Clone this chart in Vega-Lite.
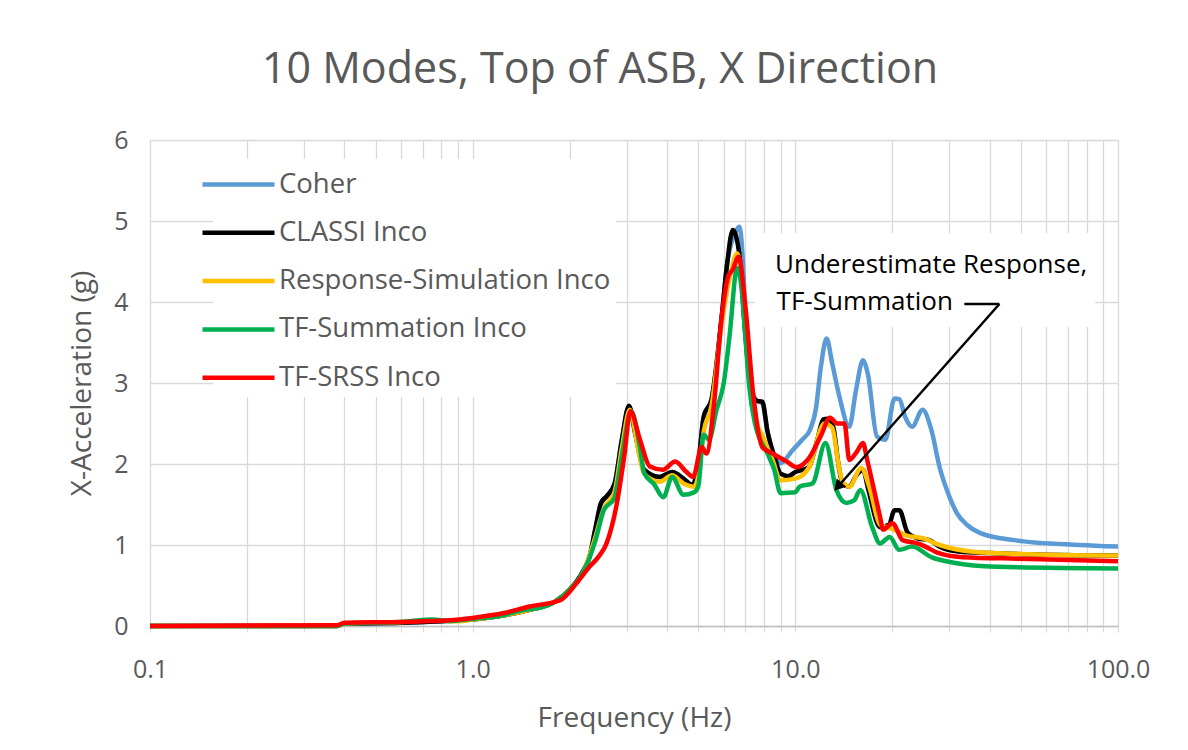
{
  "$schema": "https://vega.github.io/schema/vega-lite/v6.json",
  "width": 968,
  "height": 486,
  "autosize": {"type": "none"},
  "padding": {"left": 150, "top": 140, "right": 70, "bottom": 124},
  "background": "white",
  "config": {"view": {"stroke": null}, "font": "Open Sans"},
  "title": {"text": "10 Modes, Top of ASB, X Direction", "font": "Open Sans", "fontSize": 43, "fontWeight": "normal", "color": "#595959", "anchor": "middle", "offset": 36, "dx": -34},
  "datasets": {
    "coher": [
      {"f":0.1,"a":0},{"f":0.38,"a":0},{"f":0.4,"a":0.03},{"f":0.6,"a":0.04},{"f":0.8,"a":0.06},{"f":1.0,"a":0.08},{"f":1.2,"a":0.12},{"f":1.5,"a":0.2},{"f":1.8,"a":0.3},{"f":2.0,"a":0.45},{"f":2.2,"a":0.68},{"f":2.3,"a":0.85},{"f":2.4,"a":1.2},{"f":2.5,"a":1.52},{"f":2.6,"a":1.6},{"f":2.75,"a":1.75},{"f":2.9,"a":2.3},{"f":3.05,"a":2.7},{"f":3.2,"a":2.35},{"f":3.4,"a":1.93},{"f":3.8,"a":1.84},{"f":4.15,"a":1.9},{"f":4.5,"a":1.82},{"f":4.8,"a":1.74},{"f":5.0,"a":2.0},{"f":5.2,"a":2.58},{"f":5.5,"a":2.8},{"f":5.9,"a":3.78},{"f":6.15,"a":4.48},{"f":6.5,"a":4.85},{"f":6.7,"a":4.93},{"f":6.9,"a":4.4},{"f":7.0,"a":3.8},{"f":7.3,"a":2.95},{"f":7.6,"a":2.78},{"f":7.9,"a":2.75},{"f":8.2,"a":2.4},{"f":8.6,"a":2.1},{"f":9.0,"a":2.01},{"f":9.8,"a":2.17},{"f":10.5,"a":2.3},{"f":11.1,"a":2.42},{"f":11.6,"a":2.7},{"f":12.0,"a":3.2},{"f":12.5,"a":3.55},{"f":13.0,"a":3.25},{"f":13.7,"a":2.83},{"f":14.7,"a":2.46},{"f":15.4,"a":2.9},{"f":16.2,"a":3.28},{"f":16.8,"a":3.1},{"f":17.9,"a":2.34},{"f":19.0,"a":2.3},{"f":20.3,"a":2.81},{"f":21.0,"a":2.8},{"f":21.9,"a":2.58},{"f":23,"a":2.46},{"f":24.8,"a":2.67},{"f":26.4,"a":2.42},{"f":28,"a":1.96},{"f":30,"a":1.6},{"f":31.7,"a":1.39},{"f":34,"a":1.25},{"f":37.3,"a":1.15},{"f":47.6,"a":1.06},{"f":76,"a":1.0},{"f":100,"a":0.98}
    ],
    "classi": [
      {"f":0.1,"a":0},{"f":0.38,"a":0},{"f":0.4,"a":0.03},{"f":0.6,"a":0.04},{"f":0.8,"a":0.06},{"f":1.0,"a":0.08},{"f":1.2,"a":0.12},{"f":1.5,"a":0.2},{"f":1.8,"a":0.3},{"f":2.0,"a":0.45},{"f":2.2,"a":0.68},{"f":2.3,"a":0.85},{"f":2.4,"a":1.2},{"f":2.5,"a":1.52},{"f":2.6,"a":1.6},{"f":2.75,"a":1.75},{"f":2.9,"a":2.3},{"f":3.05,"a":2.72},{"f":3.2,"a":2.35},{"f":3.4,"a":1.93},{"f":3.8,"a":1.84},{"f":4.15,"a":1.9},{"f":4.5,"a":1.82},{"f":4.8,"a":1.74},{"f":5.0,"a":2.0},{"f":5.2,"a":2.58},{"f":5.5,"a":2.8},{"f":5.9,"a":3.78},{"f":6.15,"a":4.48},{"f":6.4,"a":4.89},{"f":6.7,"a":4.6},{"f":7.0,"a":3.6},{"f":7.3,"a":2.9},{"f":7.6,"a":2.78},{"f":7.9,"a":2.77},{"f":8.2,"a":2.4},{"f":8.6,"a":2.1},{"f":9.0,"a":1.88},{"f":9.5,"a":1.85},{"f":10,"a":1.9},{"f":11,"a":1.96},{"f":11.7,"a":2.3},{"f":12.2,"a":2.55},{"f":12.6,"a":2.56},{"f":13.1,"a":2.46},{"f":13.6,"a":2.0},{"f":14.0,"a":1.76},{"f":14.7,"a":1.72},{"f":15.4,"a":1.85},{"f":16.2,"a":1.93},{"f":16.8,"a":1.7},{"f":18.3,"a":1.22},{"f":19.5,"a":1.25},{"f":20.3,"a":1.43},{"f":21,"a":1.43},{"f":22.3,"a":1.15},{"f":24,"a":1.08},{"f":26,"a":1.06},{"f":28,"a":0.98},{"f":32,"a":0.92},{"f":40,"a":0.9},{"f":60,"a":0.88},{"f":100,"a":0.87}
    ],
    "respsim": [
      {"f":0.1,"a":0},{"f":0.38,"a":0},{"f":0.4,"a":0.03},{"f":0.6,"a":0.05},{"f":0.75,"a":0.07},{"f":0.9,"a":0.06},{"f":1.0,"a":0.08},{"f":1.2,"a":0.12},{"f":1.5,"a":0.2},{"f":1.8,"a":0.3},{"f":2.0,"a":0.45},{"f":2.2,"a":0.66},{"f":2.4,"a":1.1},{"f":2.55,"a":1.45},{"f":2.75,"a":1.65},{"f":2.9,"a":2.2},{"f":3.07,"a":2.67},{"f":3.25,"a":2.2},{"f":3.4,"a":1.88},{"f":3.8,"a":1.78},{"f":4.15,"a":1.86},{"f":4.5,"a":1.76},{"f":4.85,"a":1.72},{"f":5.0,"a":1.85},{"f":5.2,"a":2.4},{"f":5.5,"a":2.72},{"f":5.9,"a":3.7},{"f":6.3,"a":4.35},{"f":6.6,"a":4.6},{"f":6.9,"a":4.1},{"f":7.2,"a":3.1},{"f":7.5,"a":2.6},{"f":8.0,"a":2.3},{"f":8.5,"a":2.05},{"f":9.0,"a":1.8},{"f":10,"a":1.82},{"f":11,"a":1.95},{"f":12.3,"a":2.5},{"f":13,"a":2.45},{"f":13.6,"a":2.0},{"f":14,"a":1.78},{"f":14.7,"a":1.72},{"f":16,"a":1.95},{"f":17,"a":1.7},{"f":18.3,"a":1.25},{"f":20,"a":1.2},{"f":22,"a":1.12},{"f":25,"a":1.08},{"f":28,"a":1.0},{"f":35,"a":0.92},{"f":50,"a":0.89},{"f":100,"a":0.87}
    ],
    "tfsum": [
      {"f":0.1,"a":0},{"f":0.38,"a":0},{"f":0.4,"a":0.03},{"f":0.6,"a":0.05},{"f":0.75,"a":0.08},{"f":0.85,"a":0.06},{"f":1.0,"a":0.09},{"f":1.2,"a":0.12},{"f":1.45,"a":0.2},{"f":1.6,"a":0.22},{"f":1.8,"a":0.3},{"f":2.0,"a":0.45},{"f":2.2,"a":0.66},{"f":2.4,"a":1.05},{"f":2.55,"a":1.43},{"f":2.75,"a":1.58},{"f":2.9,"a":2.1},{"f":3.1,"a":2.65},{"f":3.3,"a":2.2},{"f":3.4,"a":1.89},{"f":3.65,"a":1.75},{"f":3.9,"a":1.59},{"f":4.15,"a":1.84},{"f":4.5,"a":1.62},{"f":4.85,"a":1.65},{"f":5.0,"a":1.72},{"f":5.2,"a":2.36},{"f":5.4,"a":2.3},{"f":5.7,"a":2.67},{"f":6.0,"a":3.0},{"f":6.25,"a":3.57},{"f":6.6,"a":4.42},{"f":6.8,"a":4.2},{"f":7.0,"a":3.57},{"f":7.2,"a":2.95},{"f":7.5,"a":2.5},{"f":8.2,"a":2.13},{"f":8.6,"a":1.93},{"f":9.0,"a":1.64},{"f":10,"a":1.65},{"f":10.3,"a":1.72},{"f":11.3,"a":1.76},{"f":12.4,"a":2.26},{"f":13.4,"a":1.68},{"f":14.4,"a":1.52},{"f":15.2,"a":1.55},{"f":15.9,"a":1.68},{"f":17.3,"a":1.22},{"f":18.3,"a":1.02},{"f":19.6,"a":1.1},{"f":21,"a":0.94},{"f":23,"a":0.98},{"f":26.4,"a":0.85},{"f":31,"a":0.78},{"f":42,"a":0.73},{"f":100,"a":0.71}
    ],
    "tfsrss": [
      {"f":0.1,"a":0},{"f":0.38,"a":0.01},{"f":0.4,"a":0.04},{"f":0.6,"a":0.05},{"f":0.85,"a":0.07},{"f":1.0,"a":0.1},{"f":1.25,"a":0.16},{"f":1.5,"a":0.24},{"f":1.87,"a":0.32},{"f":2.1,"a":0.53},{"f":2.3,"a":0.73},{"f":2.45,"a":0.85},{"f":2.6,"a":1.02},{"f":2.8,"a":1.52},{"f":2.95,"a":2.1},{"f":3.08,"a":2.65},{"f":3.3,"a":2.3},{"f":3.54,"a":1.97},{"f":3.89,"a":1.93},{"f":4.24,"a":2.03},{"f":4.6,"a":1.9},{"f":4.82,"a":1.84},{"f":5.13,"a":2.21},{"f":5.3,"a":2.13},{"f":5.6,"a":2.75},{"f":5.9,"a":3.78},{"f":6.2,"a":4.32},{"f":6.4,"a":4.4},{"f":6.67,"a":4.56},{"f":7.0,"a":3.95},{"f":7.4,"a":2.87},{"f":7.9,"a":2.21},{"f":8.5,"a":2.13},{"f":9.4,"a":2.03},{"f":10.1,"a":1.96},{"f":10.6,"a":2.0},{"f":11.1,"a":2.09},{"f":12.0,"a":2.35},{"f":12.8,"a":2.57},{"f":13.5,"a":2.5},{"f":14.2,"a":2.5},{"f":14.7,"a":2.05},{"f":15.5,"a":2.15},{"f":16.2,"a":2.26},{"f":16.7,"a":2.05},{"f":18.3,"a":1.35},{"f":18.7,"a":1.19},{"f":20,"a":1.27},{"f":21.5,"a":1.06},{"f":23.9,"a":1.02},{"f":25.3,"a":0.98},{"f":27.4,"a":0.91},{"f":33,"a":0.85},{"f":50,"a":0.83},{"f":100,"a":0.8}
    ],
    "box": [{"f1":7.5,"f2":85,"a1":3.69,"a2":4.85}],
    "notes": [
      {"f":8.65,"a":4.46,"t":"Underestimate Response,"},
      {"f":8.75,"a":4.0,"t":"TF-Summation"}
    ],
    "arrow": [
      {"f1":33.4,"f2":42.9,"a1":3.975,"a2":3.975},
      {"f1":42.9,"f2":13.65,"a1":3.975,"a2":1.735}
    ],
    "head": [{"f":13.55,"a":1.72}]
  },
  "layer": [
    {
      "data": {"name": "box"},
      "mark": {"type": "rect", "color": "white"},
      "encoding": {
        "x": {"field": "f1", "type": "quantitative", "scale": {"type": "log", "domain": [0.1, 100]},
          "axis": {
            "values": [0.1,0.2,0.3,0.4,0.5,0.6,0.7,0.8,0.9,1,2,3,4,5,6,7,8,9,10,20,30,40,50,60,70,80,90,100],
            "labelExpr": "datum.value == 0.1 ? '0.1' : datum.value == 1 ? '1.0' : datum.value == 10 ? '10.0' : datum.value == 100 ? '100.0' : ''",
            "title": "Frequency (Hz)",
            "grid": true, "gridColor": "#d9d9d9", "gridWidth": 1.3,
            "domain": true, "domainColor": "#bfbfbf", "domainWidth": 1.3,
            "ticks": true, "tickSize": 6, "tickColor": "#d9d9d9",
            "labelFont": "Open Sans", "labelFontSize": 25, "labelColor": "#595959", "labelPadding": 25,
            "labelOverlap": false, "labelFlush": false, "labelBound": false,
            "titleFont": "Open Sans", "titleFontSize": 28, "titleFontWeight": "normal", "titleColor": "#595959", "titlePadding": 22
          }},
        "x2": {"field": "f2"},
        "y": {"field": "a1", "type": "quantitative", "scale": {"domain": [0, 6]},
          "axis": {
            "values": [0,1,2,3,4,5,6],
            "format": "d",
            "title": "X-Acceleration (g)",
            "grid": true, "gridColor": "#d9d9d9", "gridWidth": 1.3,
            "domain": false, "ticks": false,
            "labelFont": "Open Sans", "labelFontSize": 25, "labelColor": "#595959", "labelPadding": 22,
            "titleFont": "Open Sans", "titleFontSize": 28, "titleFontWeight": "normal", "titleColor": "#595959", "titlePadding": 17
          }},
        "y2": {"field": "a2"}
      }
    },
    {
      "data": {"name": "coher"},
      "mark": {"type": "line", "strokeWidth": 4.5, "interpolate": "monotone"},
      "encoding": {
        "x": {"field": "f", "type": "quantitative"},
        "y": {"field": "a", "type": "quantitative"},
        "color": {"datum": "Coher", "type": "nominal",
          "scale": {"domain": ["Coher", "CLASSI Inco", "Response-Simulation Inco", "TF-Summation Inco", "TF-SRSS Inco"],
                    "range": ["#5B9BD5", "#000000", "#FFC000", "#00B050", "#FF0000"]},
          "legend": {"title": null, "orient": "none", "legendX": 63, "legendY": 19,
            "fillColor": "white", "padding": 5,
            "symbolType": "M-2,0H2", "symbolSize": 1296, "symbolStrokeWidth": 4.5,
            "labelFont": "Open Sans", "labelFontSize": 27.5, "labelColor": "#595959", "labelOffset": 20,
            "labelLimit": 600, "rowPadding": 14.3}}
      }
    },
    {
      "data": {"name": "classi"},
      "mark": {"type": "line", "strokeWidth": 4.5, "interpolate": "monotone"},
      "encoding": {
        "x": {"field": "f", "type": "quantitative"},
        "y": {"field": "a", "type": "quantitative"},
        "color": {"datum": "CLASSI Inco", "type": "nominal"}
      }
    },
    {
      "data": {"name": "respsim"},
      "mark": {"type": "line", "strokeWidth": 4.5, "interpolate": "monotone"},
      "encoding": {
        "x": {"field": "f", "type": "quantitative"},
        "y": {"field": "a", "type": "quantitative"},
        "color": {"datum": "Response-Simulation Inco", "type": "nominal"}
      }
    },
    {
      "data": {"name": "tfsum"},
      "mark": {"type": "line", "strokeWidth": 4.5, "interpolate": "monotone"},
      "encoding": {
        "x": {"field": "f", "type": "quantitative"},
        "y": {"field": "a", "type": "quantitative"},
        "color": {"datum": "TF-Summation Inco", "type": "nominal"}
      }
    },
    {
      "data": {"name": "tfsrss"},
      "mark": {"type": "line", "strokeWidth": 4.5, "interpolate": "monotone"},
      "encoding": {
        "x": {"field": "f", "type": "quantitative"},
        "y": {"field": "a", "type": "quantitative"},
        "color": {"datum": "TF-SRSS Inco", "type": "nominal"}
      }
    },
    {
      "data": {"name": "notes"},
      "mark": {"type": "text", "align": "left", "baseline": "middle", "font": "Open Sans", "fontSize": 26, "color": "#000000"},
      "encoding": {
        "x": {"field": "f", "type": "quantitative"},
        "y": {"field": "a", "type": "quantitative"},
        "text": {"field": "t"}
      }
    },
    {
      "data": {"name": "arrow"},
      "mark": {"type": "rule", "color": "#000000", "strokeWidth": 2.5},
      "encoding": {
        "x": {"field": "f1", "type": "quantitative"},
        "x2": {"field": "f2"},
        "y": {"field": "a1", "type": "quantitative"},
        "y2": {"field": "a2"}
      }
    },
    {
      "data": {"name": "head"},
      "mark": {"type": "point", "shape": "triangle-up", "filled": true, "color": "#000000", "size": 160, "angle": 221, "opacity": 1},
      "encoding": {
        "x": {"field": "f", "type": "quantitative"},
        "y": {"field": "a", "type": "quantitative"}
      }
    }
  ]
}
